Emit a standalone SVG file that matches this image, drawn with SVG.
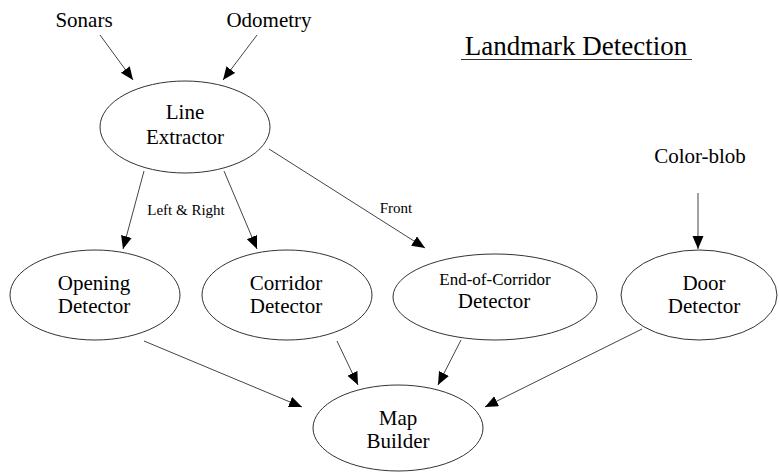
<svg xmlns="http://www.w3.org/2000/svg" width="779" height="473" viewBox="0 0 779 473">
  <style>
    text { font-family: Liberation Serif, DejaVu Serif, Times New Roman, serif; fill: #000; text-anchor: middle; }
    .node ellipse { fill: #fff; stroke: #333; stroke-width: 1; }
    .lbl { font-size: 21px; }
    .small { font-size: 15px; }
    .edge { stroke: #444; stroke-width: 1; fill: none; marker-end: url(#arrow); }
  </style>
  <defs>
    <marker id="arrow" markerUnits="userSpaceOnUse" markerWidth="14" markerHeight="12" refX="13" refY="5.5" orient="auto">
      <path d="M0,0 L13,5.5 L0,11 z" fill="#000"/>
    </marker>
  </defs>
  <rect width="779" height="473" fill="#fff"/>

  <!-- title -->
  <g id="title">
    <text x="576" y="55" font-family="Liberation Serif" style="font-size:27px">Landmark Detection</text>
    <line x1="461" y1="59.5" x2="692" y2="59.5" stroke="#333" stroke-width="1"/>
  </g>

  <!-- inputs -->
  <g id="sonars"><text class="lbl" x="84" y="27">Sonars</text></g>
  <g id="odometry"><text class="lbl" x="269" y="27">Odometry</text></g>
  <g id="color-blob"><text class="lbl" x="700" y="163">Color-blob</text></g>

  <!-- connectors -->
  <g id="connectors">
    <line class="edge" x1="100" y1="35" x2="133" y2="80"/>
    <line class="edge" x1="257" y1="35" x2="223" y2="80"/>
    <line class="edge" x1="144" y1="171" x2="123" y2="249"/>
    <line class="edge" x1="224" y1="171" x2="257" y2="249"/>
    <line class="edge" x1="269" y1="149" x2="425" y2="248"/>
    <line class="edge" x1="698" y1="193" x2="698" y2="249"/>
    <line class="edge" x1="144" y1="341" x2="302" y2="407"/>
    <line class="edge" x1="337" y1="341" x2="358" y2="385"/>
    <line class="edge" x1="461" y1="340" x2="438" y2="385"/>
    <line class="edge" x1="642" y1="329" x2="485" y2="407"/>
    <text class="small" x="186" y="215">Left &amp; Right</text>
    <text class="small" x="396" y="213">Front</text>
  </g>

  <!-- nodes -->
  <g id="line-extractor" class="node">
    <ellipse cx="185" cy="127" rx="85" ry="46"/>
    <text class="lbl" x="185" y="119">Line</text>
    <text class="lbl" x="185" y="144">Extractor</text>
  </g>
  <g id="opening-detector" class="node">
    <ellipse cx="95" cy="295" rx="85" ry="45"/>
    <text class="lbl" x="94" y="290">Opening</text>
    <text class="lbl" x="94" y="313">Detector</text>
  </g>
  <g id="corridor-detector" class="node">
    <ellipse cx="287" cy="295" rx="85" ry="45"/>
    <text class="lbl" x="286" y="290">Corridor</text>
    <text class="lbl" x="286" y="313">Detector</text>
  </g>
  <g id="end-of-corridor-detector" class="node">
    <ellipse cx="495" cy="297" rx="102" ry="43"/>
    <text x="495" y="285" style="font-size:17px">End-of-Corridor</text>
    <text class="lbl" x="494" y="308">Detector</text>
  </g>
  <g id="door-detector" class="node">
    <ellipse cx="699" cy="295" rx="78" ry="45"/>
    <text class="lbl" x="704" y="290">Door</text>
    <text class="lbl" x="704" y="313">Detector</text>
  </g>
  <g id="map-builder" class="node">
    <ellipse cx="398" cy="428" rx="85" ry="43"/>
    <text class="lbl" x="398" y="425">Map</text>
    <text class="lbl" x="398" y="448">Builder</text>
  </g>
</svg>
